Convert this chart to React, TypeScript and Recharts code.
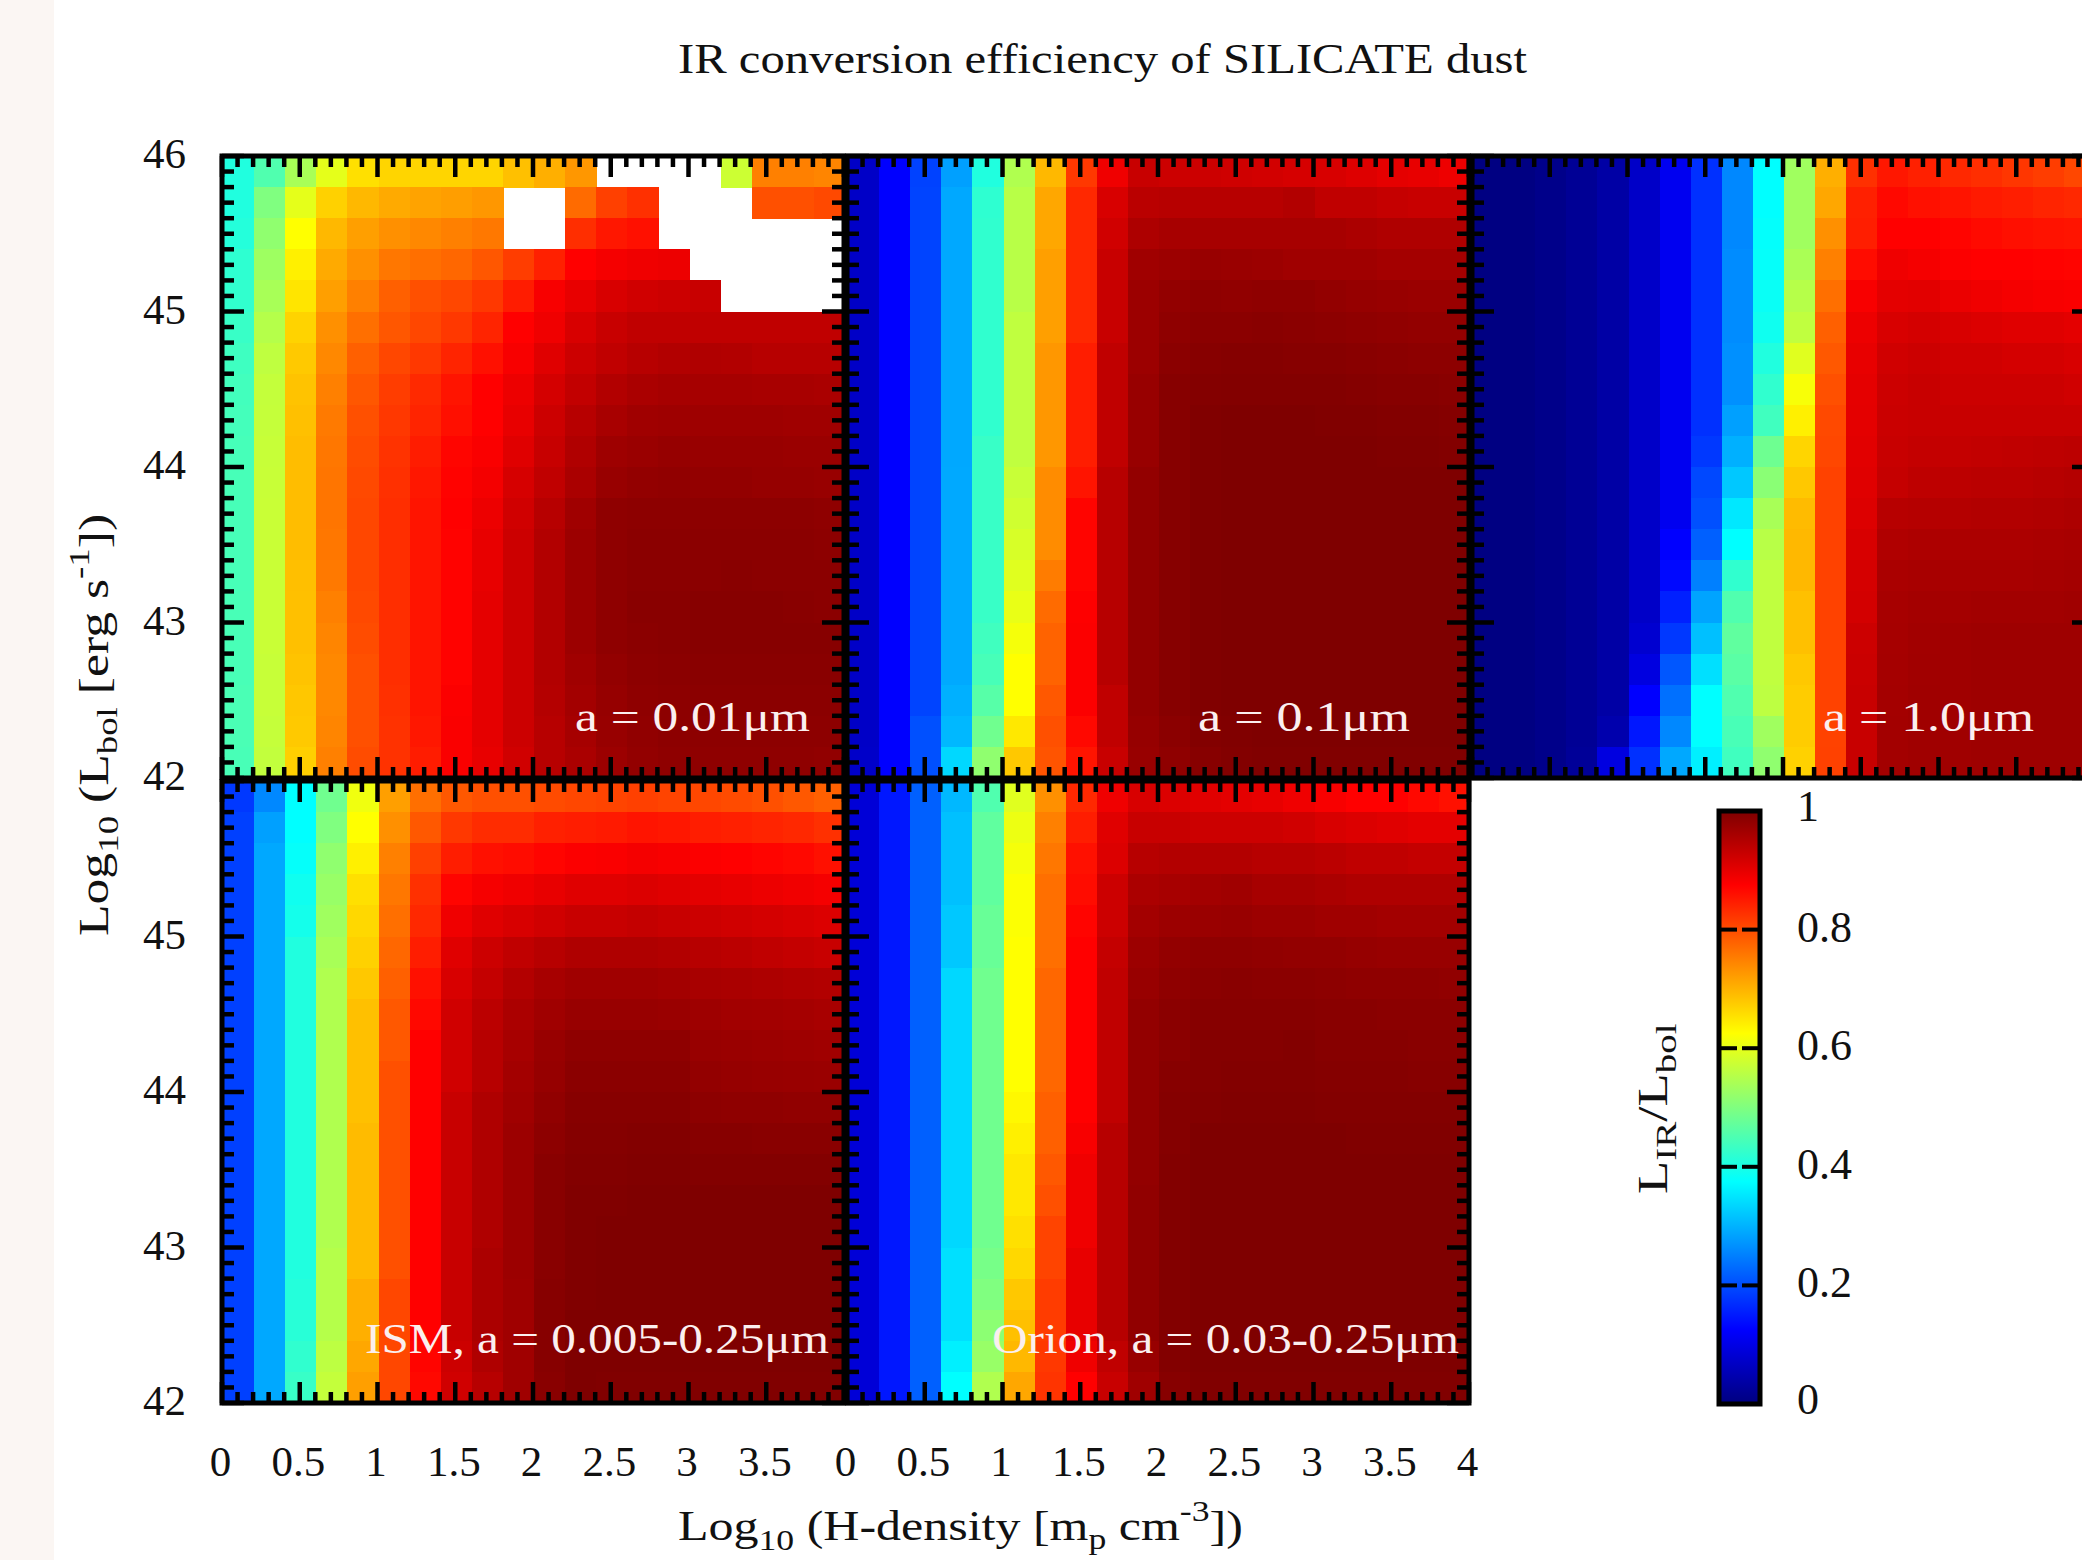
import React from "react";
import { ScatterChart, Scatter, BarChart, Bar, XAxis, YAxis, ReferenceArea } from "recharts";

// L_IR/L_bol in thousandths. rows run from Log L = 46 down to 42, columns from Log n = 0 to 4, n = no converged model
const n = null;

const grainSmall = [
  [406,453,540,600,655,666,666,666,666,687,703,727,n,n,n,n,575,750,750,745],
  [406,500,600,670,695,708,715,720,727,n,n,770,812,828,n,n,n,797,797,803],
  [410,516,625,695,719,734,742,750,757,n,n,830,852,859,n,n,n,n,n,n],
  [420,530,640,708,734,758,766,774,790,815,844,875,885,890,893,n,n,n,n,n],
  [423,540,650,719,750,781,797,805,820,848,882,897,913,921,925,929,n,n,n,n],
  [430,552,668,734,766,790,805,820,840,875,890,913,929,937,937,937,937,937,937,937],
  [436,562,678,742,781,805,820,840,859,882,905,925,937,945,950,952,950,945,945,945],
  [440,567,684,750,790,815,835,855,875,893,917,935,950,958,962,962,962,960,960,958],
  [442,568,687,755,797,820,840,860,875,897,925,945,960,968,970,970,970,970,968,968],
  [444,570,690,758,800,825,848,870,880,905,930,952,970,974,978,976,976,976,974,974],
  [445,571,690,760,803,828,852,873,886,915,937,958,976,980,982,980,980,978,978,976],
  [445,572,690,760,805,830,855,875,893,921,945,968,984,986,986,986,986,986,986,984],
  [445,572,690,758,805,830,855,873,897,925,950,972,984,988,988,988,988,988,988,986],
  [445,572,688,756,805,830,855,873,897,925,950,972,984,988,988,988,990,988,988,988],
  [446,572,687,750,803,830,855,873,900,925,950,972,984,990,990,992,992,992,990,988],
  [446,572,687,745,800,830,855,873,900,925,950,972,984,988,990,992,992,992,992,992],
  [446,570,684,742,797,830,855,873,900,925,950,968,980,986,988,990,990,990,990,990],
  [448,570,680,742,797,828,855,878,900,925,948,965,978,984,986,988,988,988,988,988],
  [448,568,678,745,797,826,852,880,900,925,945,962,976,982,986,986,986,986,986,986],
  [446,565,672,750,800,826,848,880,897,921,945,958,972,980,984,984,984,984,984,982],
];

const grainMedium = [
  [70,125,190,282,406,548,695,820,890,929,925,925,922,919,915,913,907,900,897,892],
  [70,125,192,290,420,555,711,836,913,942,945,945,945,945,950,937,937,932,929,929],
  [70,125,192,290,422,555,711,836,921,955,961,961,961,961,961,961,957,953,953,953],
  [70,125,192,290,422,555,719,836,929,968,972,976,974,972,968,968,968,964,964,964],
  [70,125,192,290,422,555,719,836,929,972,980,984,982,984,984,980,978,976,974,974],
  [70,125,192,290,422,563,719,836,929,972,984,988,988,990,988,986,984,982,980,980],
  [70,125,192,290,422,563,727,847,937,972,988,992,994,994,992,992,990,988,986,986],
  [70,125,192,290,422,563,727,847,937,976,992,995,996,996,996,996,994,992,992,990],
  [70,125,192,290,422,563,727,847,937,976,992,998,1000,1000,1000,998,998,996,996,994],
  [70,125,192,290,430,563,727,847,937,976,992,998,1000,1000,1000,1000,1000,998,998,996],
  [70,125,192,291,430,571,738,855,945,980,992,998,1000,1000,1000,1000,1000,1000,1000,1000],
  [70,125,192,291,430,578,738,871,945,980,992,998,1000,1000,1000,1000,1000,1000,1000,1000],
  [70,125,192,291,430,586,738,871,945,980,992,998,1000,1000,1000,1000,1000,1000,1000,1000],
  [70,125,192,291,430,595,753,871,945,980,992,998,1000,1000,1000,1000,1000,1000,1000,1000],
  [70,125,192,291,430,603,770,876,945,980,992,998,1000,1000,1000,1000,1000,1000,1000,1000],
  [70,125,192,291,438,615,778,878,945,980,992,998,1000,1000,1000,1000,1000,1000,1000,1000],
  [70,125,192,291,445,625,778,878,945,980,992,998,1000,1000,1000,1000,1000,1000,1000,1000],
  [70,125,192,298,460,625,789,878,937,980,992,998,1000,1000,1000,1000,1000,1000,1000,1000],
  [70,125,203,305,485,648,797,867,937,978,988,996,998,1000,1000,1000,1000,1000,1000,1000],
  [72,125,203,337,516,679,793,855,929,976,984,992,996,998,998,998,998,998,998,998],
];

const grainLarge = [
  [3,3,11,21,37,71,110,172,258,375,532,703,828,852,844,836,830,822,815,805],
  [3,3,11,21,37,71,110,172,258,375,532,711,844,867,859,855,850,846,840,836],
  [3,3,11,21,37,71,110,172,258,378,532,734,846,875,875,871,865,860,857,855],
  [3,3,11,21,37,71,110,172,262,380,542,750,863,890,885,878,875,875,873,871],
  [3,3,11,21,37,71,110,172,262,384,553,766,882,901,903,895,890,885,882,880],
  [3,3,11,21,37,71,110,172,262,390,563,781,893,913,917,913,909,905,905,901],
  [3,3,11,21,37,71,110,172,266,406,595,789,897,921,925,921,921,917,917,913],
  [3,3,11,21,37,71,110,172,266,422,618,797,900,925,929,925,925,925,925,921],
  [3,3,11,21,37,71,110,172,282,438,640,803,901,927,929,929,929,929,929,929],
  [3,3,11,21,37,71,110,180,298,483,666,805,903,929,933,933,935,937,938,940],
  [3,3,11,21,37,71,110,196,321,510,679,810,905,932,938,940,942,942,945,948],
  [3,3,11,21,37,71,110,203,352,540,692,810,908,945,947,948,950,950,952,955],
  [3,3,11,21,37,71,125,219,375,555,695,810,913,952,955,956,956,956,958,960],
  [3,3,11,21,37,71,133,250,422,563,695,810,916,958,960,960,960,960,962,964],
  [3,3,11,21,37,71,156,286,453,563,687,810,918,961,964,964,966,966,966,968],
  [3,3,11,21,37,79,180,313,469,563,687,810,925,962,966,968,970,970,970,970],
  [3,3,11,21,37,95,210,345,463,563,679,810,927,963,967,968,970,970,970,970],
  [3,3,11,21,37,125,235,375,453,560,675,810,929,964,968,968,970,970,970,970],
  [3,3,11,21,45,148,258,375,446,532,675,810,929,965,968,968,970,970,970,970],
  [3,3,11,24,95,172,290,360,438,516,670,811,929,965,968,968,970,970,970,970],
];

const grainISM = [
  [180,258,375,485,610,719,766,789,797,797,801,805,808,812,808,805,801,797,789,781],
  [188,282,375,500,625,734,789,820,832,832,844,847,850,855,852,847,844,840,836,828],
  [188,290,380,516,640,750,812,847,859,863,871,878,880,885,882,878,875,871,867,859],
  [188,290,390,524,655,758,828,871,884,890,897,905,905,909,905,901,897,893,889,885],
  [188,290,395,532,663,766,836,890,905,913,921,929,929,933,929,925,921,917,913,909],
  [188,290,406,540,670,774,847,905,925,937,945,953,953,953,950,945,941,937,933,929],
  [188,290,406,548,679,781,859,913,933,949,961,968,968,968,965,960,958,955,952,950],
  [188,290,406,548,687,789,867,921,941,957,968,976,976,976,974,970,966,965,963,960],
  [188,290,406,548,687,789,875,921,945,961,976,984,984,984,984,976,974,972,970,968],
  [188,290,406,548,687,797,875,921,945,965,978,988,988,988,988,980,978,976,975,974],
  [188,290,406,548,687,797,875,929,953,968,982,992,992,992,992,986,984,984,982,982],
  [188,290,406,548,692,797,875,929,953,972,986,994,994,996,996,992,992,990,990,990],
  [188,290,406,548,692,797,875,929,953,972,990,996,996,998,998,996,996,996,996,996],
  [188,290,406,548,692,797,875,929,953,972,990,998,998,1000,1000,1000,1000,1000,1000,1000],
  [188,290,406,548,692,797,875,929,953,972,990,998,1000,1000,1000,1000,1000,1000,1000,1000],
  [188,290,406,552,692,797,875,929,957,972,990,998,1000,1000,1000,1000,1000,1000,1000,1000],
  [188,290,410,552,703,805,875,929,957,970,992,998,1000,1000,1000,1000,1000,1000,1000,1000],
  [188,290,414,552,703,805,875,929,957,968,992,1000,1000,1000,1000,1000,1000,1000,1000,1000],
  [188,290,422,560,711,805,871,925,953,968,992,1000,1000,1000,1000,1000,1000,1000,1000,1000],
  [188,290,430,567,719,805,867,921,945,968,990,1000,998,998,998,998,998,998,998,998],
];

const grainOrion = [
  [86,148,219,305,453,595,734,836,890,913,909,905,901,897,890,882,875,875,867,859],
  [86,148,219,313,469,607,750,847,905,929,929,925,925,925,921,913,909,905,901,901],
  [86,148,219,313,469,615,758,859,909,945,949,949,949,945,945,941,937,937,933,933],
  [86,148,219,313,469,622,766,863,925,957,961,965,968,961,961,957,953,953,953,953],
  [86,148,219,321,477,622,766,871,925,965,972,974,976,972,972,968,968,965,965,965],
  [86,148,219,321,477,625,766,875,933,972,980,984,984,982,980,980,978,976,976,976],
  [86,148,219,337,485,625,774,875,937,976,984,988,990,988,988,986,984,984,984,982],
  [86,148,219,337,485,625,774,875,937,980,988,992,992,992,992,990,990,988,988,988],
  [86,148,219,337,485,625,774,875,937,980,988,994,994,994,996,992,992,992,990,990],
  [86,148,219,337,485,625,774,875,937,980,992,994,996,996,996,994,994,994,992,992],
  [86,148,219,337,485,632,781,875,937,980,994,996,998,998,998,996,996,996,996,996],
  [86,148,219,337,485,640,781,882,945,980,994,1000,1000,1000,1000,1000,998,998,998,998],
  [86,148,219,337,485,648,789,890,945,980,996,1000,1000,1000,1000,1000,1000,1000,1000,1000],
  [86,148,219,337,485,648,797,890,945,982,996,1000,1000,1000,1000,1000,1000,1000,1000,1000],
  [86,148,219,337,485,655,808,890,945,982,996,1000,1000,1000,1000,1000,1000,1000,1000,1000],
  [86,148,219,345,492,663,808,897,945,982,996,1000,1000,1000,1000,1000,1000,1000,1000,1000],
  [86,148,219,345,500,679,816,897,945,982,996,1000,1000,1000,1000,1000,1000,1000,1000,1000],
  [86,148,219,345,512,687,816,897,945,982,996,1000,1000,1000,1000,1000,1000,1000,1000,1000],
  [86,148,219,360,524,695,820,890,937,976,996,1000,1000,1000,1000,1000,1000,1000,1000,1000],
  [86,148,219,375,548,711,824,875,929,968,992,998,998,998,998,998,998,998,998,998],
];

const xTicks = [0,0.1,0.2,0.3,0.4,0.5,0.6,0.7,0.8,0.9,1,1.1,1.2,1.3,1.4,1.5,1.6,1.7,1.8,1.9,2,2.1,2.2,2.3,2.4,2.5,2.6,2.7,2.8,2.9,3,3.1,3.2,3.3,3.4,3.5,3.6,3.7,3.8,3.9,4];
const yTicks = [42,42.1,42.2,42.3,42.4,42.5,42.6,42.7,42.8,42.9,43,43.1,43.2,43.3,43.4,43.5,43.6,43.7,43.8,43.9,44,44.1,44.2,44.3,44.4,44.5,44.6,44.7,44.8,44.9,45,45.1,45.2,45.3,45.4,45.5,45.6,45.7,45.8,45.9,46];
const barTicks = [0,0.2,0.4,0.6,0.8,1];

// jet palette
const jetStops = [
  { at: 0, rgb: [0, 0, 127] },
  { at: 0.125, rgb: [0, 0, 255] },
  { at: 0.375, rgb: [0, 255, 255] },
  { at: 0.625, rgb: [255, 255, 0] },
  { at: 0.875, rgb: [255, 0, 0] },
  { at: 1, rgb: [127, 0, 0] },
];

const jet = (v: number) => {
  const i = Math.max(jetStops.findIndex((s) => s.at >= v), 1);
  const a = jetStops[i - 1];
  const b = jetStops[i];
  const t = (v - a.at) / (b.at - a.at);
  const c = a.rgb.map((ch, k) => Math.round(ch + (b.rgb[k] - ch) * t));
  return `rgb(${c[0]},${c[1]},${c[2]})`;
};

const SERIF = "'Liberation Serif', serif";
const PLOT = 622;
const ML = 110;
const MT = 40;
const MB = 100;
const MR = 10;
const CELL = PLOT / 20;

const toCells = (rows: (number | null)[][]) =>
  rows.flatMap((row, r) =>
    row.flatMap((v, c) => (v === null ? [] : [{ x: c * 0.2 + 0.1, y: 46 - r * 0.2 - 0.1, v: v / 1000 }]))
  );

const HeatCell = (props: any) => (
  <rect
    x={props.cx - CELL / 2 + 1}
    y={props.cy - CELL / 2}
    width={CELL + 0.6}
    height={CELL + 0.6}
    fill={jet(props.payload.v)}
    shapeRendering="crispEdges"
  />
);

const isMajorX = (v: number) => Math.round(v * 10) % 5 === 0;
const isMajorY = (v: number) => Math.round(v * 10) % 10 === 0;

const XTick = ({ x, payload, labels, lastLabel }: any) => {
  const major = isMajorX(payload.value);
  const len = major ? 21 : 11;
  const bottom = MT + PLOT;
  const showText = labels && major && (payload.value < 4 || lastLabel);
  return (
    <g>
      <line x1={x} x2={x} y1={bottom} y2={bottom - len} stroke="#000" strokeWidth={4.5} />
      <line x1={x} x2={x} y1={MT} y2={MT + len} stroke="#000" strokeWidth={4.5} />
      {showText && (
        <text x={x - 1.5} y={bottom + 73} textAnchor="middle" fontFamily={SERIF} fontSize={43} fill="#111">
          {payload.value}
        </text>
      )}
    </g>
  );
};

const YTick = ({ y, payload, labels, firstLabel }: any) => {
  const major = isMajorY(payload.value);
  const len = major ? 22 : 12;
  const right = ML + PLOT;
  const showText = labels && major && (payload.value < 46 || firstLabel);
  return (
    <g>
      <line x1={ML} x2={ML + len} y1={y} y2={y} stroke="#000" strokeWidth={4.5} />
      <line x1={right} x2={right - len} y1={y} y2={y} stroke="#000" strokeWidth={4.5} />
      {showText && (
        <text x={ML - 36} y={y + 12} textAnchor="end" fontFamily={SERIF} fontSize={43} fill="#111">
          {payload.value}
        </text>
      )}
    </g>
  );
};

interface PanelProps {
  rows: (number | null)[][];
  left: number;
  top: number;
  xLabels?: boolean;
  lastX?: boolean;
  yLabels?: boolean;
  firstY?: boolean;
}

const Panel = ({ rows, left, top, xLabels, lastX, yLabels, firstY }: PanelProps) => (
  <div style={{ position: "absolute", left: left - ML, top: top - MT }}>
    <ScatterChart width={PLOT + ML + MR} height={PLOT + MT + MB} margin={{ top: MT, right: MR, bottom: 0, left: 0 }}>
      <Scatter data={toCells(rows)} dataKey="y" shape={HeatCell} isAnimationActive={false} zIndex={100} />
      <XAxis
        type="number"
        dataKey="x"
        domain={[0, 4]}
        ticks={xTicks}
        interval={0}
        height={MB}
        axisLine={false}
        tickLine={false}
        tick={(p: any) => <XTick {...p} labels={xLabels} lastLabel={lastX} />}
        zIndex={700}
      />
      <YAxis
        type="number"
        dataKey="y"
        domain={[42, 46]}
        ticks={yTicks}
        interval={0}
        width={ML}
        axisLine={false}
        tickLine={false}
        tick={(p: any) => <YTick {...p} labels={yLabels} firstLabel={firstY} />}
        zIndex={700}
      />
      <ReferenceArea x1={0} x2={4} y1={42} y2={46} fill="none" stroke="#000" strokeWidth={5} ifOverflow="visible" zIndex={800} />
    </ScatterChart>
  </div>
);

const barData = [{ name: "L", top: 1 }];
const BAR_LEFT = 10;
const BAR_W = 41;
const BAR_PAD = 40;

const BarTick = ({ y, payload }: any) => {
  const inner = payload.value > 0 && payload.value < 1;
  return (
    <g>
      {inner && <line x1={BAR_LEFT + 2} x2={BAR_LEFT + 18} y1={y} y2={y} stroke="#000" strokeWidth={4} />}
      {inner && <line x1={BAR_LEFT + 23} x2={BAR_LEFT + 39} y1={y} y2={y} stroke="#000" strokeWidth={4} />}
      <text x={BAR_LEFT + 78} y={inner ? y + 12 : y + 10} fontFamily={SERIF} fontSize={44} fill="#111">
        {payload.value}
      </text>
    </g>
  );
};

const ColorBar = () => (
  <div style={{ position: "absolute", left: 1718.5 - BAR_LEFT, top: 810.5 - BAR_PAD }}>
    <BarChart
      width={BAR_LEFT + BAR_W + 119}
      height={593 + BAR_PAD * 2}
      data={barData}
      margin={{ top: BAR_PAD, right: 0, bottom: BAR_PAD, left: BAR_LEFT }}
      barCategoryGap={0}
    >
      <defs>
        <linearGradient id="jetBar" x1="0" y1="1" x2="0" y2="0">
          {jetStops.map((s) => (
            <stop key={s.at} offset={s.at} stopColor={jet(s.at)} />
          ))}
        </linearGradient>
      </defs>
      <XAxis dataKey="name" hide />
      <Bar dataKey="top" fill="url(#jetBar)" stroke="#000" strokeWidth={5} isAnimationActive={false} zIndex={100} />
      <YAxis
        orientation="right"
        domain={[0, 1]}
        ticks={barTicks}
        interval={0}
        width={119}
        axisLine={false}
        tickLine={false}
        tick={BarTick}
        zIndex={700}
      />
    </BarChart>
  </div>
);

const textStyle = { fontFamily: SERIF, fontSize: 42, fill: "#111" };
const labelStyle = { fontFamily: SERIF, fontSize: 42, fill: "#fbefef" };

const Texts = () => (
  <svg width={2082} height={1560} style={{ position: "absolute", left: 0, top: 0 }}>
    <text x={678} y={73} textLength={849} lengthAdjust="spacingAndGlyphs" {...textStyle}>
      IR conversion efficiency of SILICATE dust
    </text>

    <text transform="translate(678,1540) scale(1.19,1)" {...textStyle}>
      Log
      <tspan dy={10} fontSize={30}>10</tspan>
      <tspan dy={-10}> (H-density [m</tspan>
      <tspan dy={9} fontSize={30}>p</tspan>
      <tspan dy={-9}> cm</tspan>
      <tspan dy={-19} fontSize={30}>-3</tspan>
      <tspan dy={19}>])</tspan>
    </text>

    <text transform="translate(108,936) rotate(-90) scale(1.23,1)" {...textStyle}>
      Log
      <tspan dy={10} fontSize={30}>10</tspan>
      <tspan dy={-10}> (L</tspan>
      <tspan dy={9} fontSize={30}>bol</tspan>
      <tspan dy={-9}> [erg s</tspan>
      <tspan dy={-19} fontSize={30}>-1</tspan>
      <tspan dy={19}>])</tspan>
    </text>

    <text transform="translate(1667,1194) rotate(-90) scale(1.3,1)" {...textStyle}>
      L
      <tspan dy={9} fontSize={30}>IR</tspan>
      <tspan dy={-9}>/L</tspan>
      <tspan dy={9} fontSize={30}>bol</tspan>
    </text>

    <text x={575} y={731} textLength={235} lengthAdjust="spacingAndGlyphs" {...labelStyle}>a = 0.01μm</text>
    <text x={1198} y={731} textLength={212} lengthAdjust="spacingAndGlyphs" {...labelStyle}>a = 0.1μm</text>
    <text x={1823} y={731} textLength={211} lengthAdjust="spacingAndGlyphs" {...labelStyle}>a = 1.0μm</text>
    <text x={365} y={1353} textLength={464} lengthAdjust="spacingAndGlyphs" {...labelStyle}>ISM, a = 0.005-0.25μm</text>
    <text x={992} y={1353} textLength={467} lengthAdjust="spacingAndGlyphs" {...labelStyle}>Orion, a = 0.03-0.25μm</text>
  </svg>
);

export default function App() {
  return (
    <div style={{ position: "absolute", left: 0, top: 0, width: 2082, height: 1560, overflow: "hidden", background: "#fff" }}>
      <div style={{ position: "absolute", left: 0, top: 0, width: 54, height: 1560, background: "#fbf6f3" }} />
      <Panel rows={grainSmall} left={222} top={156} yLabels firstY />
      <Panel rows={grainMedium} left={847} top={156} />
      <Panel rows={grainLarge} left={1472} top={156} />
      <Panel rows={grainISM} left={222} top={781} xLabels yLabels />
      <Panel rows={grainOrion} left={847} top={781} xLabels lastX />
      <ColorBar />
      <Texts />
    </div>
  );
}
